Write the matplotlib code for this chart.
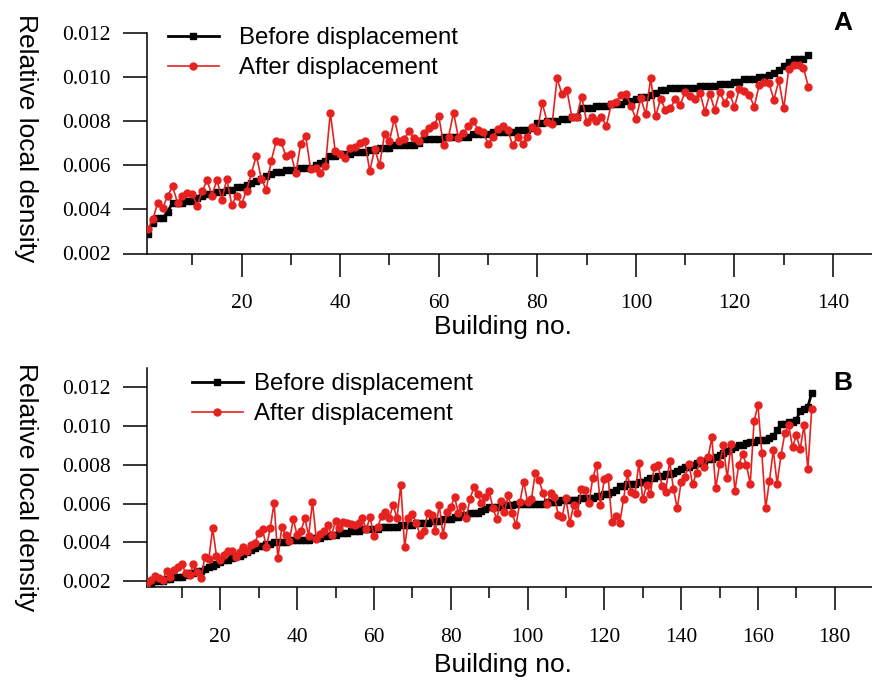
import matplotlib
matplotlib.use("Agg")
import matplotlib.pyplot as plt
from matplotlib.ticker import FixedLocator, FormatStrFormatter

# panel A: relative local density per building (135 buildings)
a_before = [0.0029, 0.0034, 0.0036, 0.0036, 0.0039, 0.0043, 0.0043, 0.0043, 0.0044, 0.0044,
            0.0045, 0.0046, 0.0047, 0.0047, 0.0048, 0.0048, 0.0049, 0.0049, 0.0050, 0.0050,
            0.0051, 0.0052, 0.0053, 0.0054, 0.0055, 0.0056, 0.0057, 0.0057, 0.0058, 0.0058,
            0.0058, 0.0059, 0.0059, 0.0059, 0.0060, 0.0061, 0.0062, 0.0064, 0.0064, 0.0065,
            0.0065, 0.0065, 0.0066, 0.0066, 0.0066, 0.0067, 0.0067, 0.0068, 0.0068, 0.0068,
            0.0069, 0.0069, 0.0069, 0.0069, 0.0069, 0.0070, 0.0072, 0.0072, 0.0072, 0.0072,
            0.0073, 0.0073, 0.0073, 0.0073, 0.0073, 0.0073, 0.0074, 0.0074, 0.0074, 0.0074,
            0.0075, 0.0075, 0.0075, 0.0075, 0.0075, 0.0076, 0.0076, 0.0076, 0.0077, 0.0079,
            0.0079, 0.0080, 0.0080, 0.0080, 0.0081, 0.0081, 0.0082, 0.0082, 0.0086, 0.0086,
            0.0086, 0.0087, 0.0087, 0.0087, 0.0088, 0.0088, 0.0088, 0.0089, 0.0089, 0.0090,
            0.0091, 0.0091, 0.0092, 0.0093, 0.0094, 0.0094, 0.0095, 0.0095, 0.0095, 0.0095,
            0.0095, 0.0095, 0.0096, 0.0096, 0.0096, 0.0096, 0.0097, 0.0097, 0.0097, 0.0098,
            0.0098, 0.0099, 0.0099, 0.0099, 0.0100, 0.0100, 0.0101, 0.0102, 0.0103, 0.0105,
            0.0107, 0.0108, 0.0108, 0.0108, 0.0110]
a_after = [0.00310, 0.00356, 0.00431, 0.00405, 0.00462, 0.00504, 0.00431, 0.00459, 0.00474, 0.00470,
           0.00416, 0.00482, 0.00532, 0.00463, 0.00535, 0.00444, 0.00538, 0.00421, 0.00463, 0.00425,
           0.00485, 0.00565, 0.00644, 0.00540, 0.00489, 0.00619, 0.00708, 0.00707, 0.00641, 0.00652,
           0.00565, 0.00698, 0.00733, 0.00584, 0.00588, 0.00565, 0.00596, 0.00839, 0.00664, 0.00649,
           0.00634, 0.00680, 0.00684, 0.00699, 0.00711, 0.00573, 0.00675, 0.00600, 0.00742, 0.00710,
           0.00812, 0.00710, 0.00718, 0.00756, 0.00722, 0.00710, 0.00745, 0.00771, 0.00781, 0.00824,
           0.00690, 0.00730, 0.00839, 0.00724, 0.00745, 0.00778, 0.00801, 0.00760, 0.00751, 0.00698,
           0.00728, 0.00763, 0.00778, 0.00760, 0.00690, 0.00730, 0.00695, 0.00730, 0.00775, 0.00756,
           0.00882, 0.00797, 0.00786, 0.00995, 0.00923, 0.00941, 0.00820, 0.00821, 0.00912, 0.00797,
           0.00820, 0.00801, 0.00821, 0.00778, 0.00877, 0.00885, 0.00921, 0.00922, 0.00870, 0.00810,
           0.00904, 0.00831, 0.00995, 0.00822, 0.00901, 0.00852, 0.00858, 0.00901, 0.00874, 0.00934,
           0.00916, 0.00901, 0.00928, 0.00843, 0.00924, 0.00851, 0.00934, 0.00883, 0.00924, 0.00866,
           0.00947, 0.00939, 0.00919, 0.00866, 0.00962, 0.00977, 0.00972, 0.00898, 0.00985, 0.00858,
           0.01035, 0.01053, 0.01053, 0.01043, 0.00954]

# panel B (174 buildings)
b_before = [0.0019, 0.0019, 0.0020, 0.0020, 0.0020, 0.0021, 0.0021, 0.0022, 0.0022, 0.0022,
            0.0023, 0.0024, 0.0024, 0.0025, 0.0025, 0.0026, 0.0027, 0.0028, 0.0029, 0.0030,
            0.0031, 0.0031, 0.0032, 0.0033, 0.0033, 0.0034, 0.0035, 0.0036, 0.0037, 0.0038,
            0.0038, 0.0039, 0.0039, 0.0040, 0.0040, 0.0040, 0.0040, 0.0041, 0.0041, 0.0041,
            0.0041, 0.0041, 0.0041, 0.0042, 0.0042, 0.0042, 0.0043, 0.0043, 0.0044, 0.0044,
            0.0045, 0.0045, 0.0045, 0.0046, 0.0046, 0.0046, 0.0047, 0.0047, 0.0047, 0.0047,
            0.0047, 0.0048, 0.0048, 0.0048, 0.0048, 0.0048, 0.0049, 0.0049, 0.0049, 0.0049,
            0.0050, 0.0050, 0.0050, 0.0050, 0.0051, 0.0051, 0.0051, 0.0052, 0.0052, 0.0052,
            0.0053, 0.0053, 0.0054, 0.0054, 0.0055, 0.0055, 0.0055, 0.0056, 0.0057, 0.0058,
            0.0058, 0.0058, 0.0059, 0.0059, 0.0059, 0.0059, 0.0060, 0.0060, 0.0060, 0.0060,
            0.0060, 0.0060, 0.0060, 0.0060, 0.0061, 0.0061, 0.0061, 0.0061, 0.0062, 0.0062,
            0.0062, 0.0062, 0.0062, 0.0063, 0.0063, 0.0063, 0.0063, 0.0064, 0.0064, 0.0065,
            0.0065, 0.0066, 0.0067, 0.0069, 0.0069, 0.0070, 0.0070, 0.0070, 0.0071, 0.0071,
            0.0072, 0.0073, 0.0073, 0.0074, 0.0074, 0.0075, 0.0075, 0.0076, 0.0077, 0.0078,
            0.0079, 0.0079, 0.0080, 0.0081, 0.0081, 0.0082, 0.0083, 0.0083, 0.0084, 0.0085,
            0.0086, 0.0087, 0.0088, 0.0089, 0.0090, 0.0090, 0.0091, 0.0092, 0.0092, 0.0093,
            0.0093, 0.0093, 0.0094, 0.0095, 0.0098, 0.0101, 0.0101, 0.0102, 0.0102, 0.0103,
            0.0108, 0.0109, 0.0110, 0.0117]
b_after = [0.00190, 0.00205, 0.00228, 0.00214, 0.00205, 0.00252, 0.00222, 0.00257, 0.00274, 0.00286,
           0.00240, 0.00231, 0.00286, 0.00248, 0.00214, 0.00326, 0.00312, 0.00472, 0.00329, 0.00308,
           0.00334, 0.00357, 0.00357, 0.00326, 0.00351, 0.00377, 0.00357, 0.00386, 0.00398, 0.00446,
           0.00467, 0.00377, 0.00472, 0.00604, 0.00317, 0.00477, 0.00437, 0.00408, 0.00518, 0.00437,
           0.00458, 0.00523, 0.00434, 0.00610, 0.00415, 0.00443, 0.00460, 0.00489, 0.00437, 0.00511,
           0.00475, 0.00506, 0.00498, 0.00494, 0.00489, 0.00498, 0.00523, 0.00468, 0.00529, 0.00432,
           0.00480, 0.00533, 0.00558, 0.00526, 0.00592, 0.00523, 0.00695, 0.00374, 0.00523, 0.00544,
           0.00501, 0.00437, 0.00458, 0.00549, 0.00541, 0.00458, 0.00592, 0.00437, 0.00558, 0.00580,
           0.00632, 0.00553, 0.00587, 0.00523, 0.00621, 0.00683, 0.00649, 0.00604, 0.00635, 0.00666,
           0.00575, 0.00520, 0.00614, 0.00558, 0.00644, 0.00549, 0.00489, 0.00606, 0.00712, 0.00610,
           0.00621, 0.00756, 0.00721, 0.00656, 0.00597, 0.00656, 0.00635, 0.00541, 0.00529, 0.00627,
           0.00498, 0.00592, 0.00549, 0.00673, 0.00670, 0.00604, 0.00733, 0.00799, 0.00592, 0.00726,
           0.00735, 0.00503, 0.00535, 0.00498, 0.00621, 0.00756, 0.00658, 0.00649, 0.00811, 0.00622,
           0.00696, 0.00647, 0.00790, 0.00799, 0.00690, 0.00661, 0.00821, 0.00675, 0.00575, 0.00713,
           0.00735, 0.00804, 0.00699, 0.00759, 0.00825, 0.00790, 0.00838, 0.00942, 0.00678, 0.00802,
           0.00902, 0.00730, 0.00907, 0.00666, 0.00799, 0.00856, 0.00799, 0.00701, 0.01028, 0.01108,
           0.00862, 0.00575, 0.00718, 0.00876, 0.00701, 0.00850, 0.00962, 0.01005, 0.00890, 0.00954,
           0.00880, 0.01005, 0.00776, 0.01088]

y_ticks = [0.002, 0.004, 0.006, 0.008, 0.010, 0.012]
labels = ["Before displacement", "After displacement"]

RED = "#e5221f"
SANS = "Liberation Sans"
SERIF = "Liberation Serif"
W, H = 872, 680

fig = plt.figure(figsize=(W / 100, H / 100), dpi=100)


def add_axes_px(left, top, right, bottom):
    return fig.add_axes([left / W, 1 - bottom / H, (right - left) / W, (bottom - top) / H])


def draw_panel(ax, before, after, xlim, ylim, xmajor, xminor):
    xs = list(range(1, len(before) + 1))
    l1, = ax.plot(xs, before, color="black", lw=2, marker="s", ms=4.5, zorder=2)
    l2, = ax.plot(xs, after, color=RED, lw=1.2, marker="o", ms=5, zorder=3)
    ax.set_xlim(*xlim)
    ax.set_ylim(*ylim)
    ax.xaxis.set_major_locator(FixedLocator(xmajor))
    ax.xaxis.set_minor_locator(FixedLocator(xminor))
    ax.yaxis.set_major_locator(FixedLocator(y_ticks))
    ax.yaxis.set_major_formatter(FormatStrFormatter("%.3f"))
    for s in ["top", "right"]:
        ax.spines[s].set_visible(False)
    for s in ["left", "bottom"]:
        ax.spines[s].set_linewidth(1.1)
    ax.tick_params(axis="y", direction="out", length=17, width=1.1, pad=9, labelsize=15.5)
    ax.tick_params(axis="x", which="major", direction="out", length=16.5, width=1.1, pad=13, labelsize=15.5)
    ax.tick_params(axis="x", which="minor", direction="out", length=8, width=1.1)
    for t in ax.get_xticklabels() + ax.get_yticklabels():
        t.set_fontfamily(SERIF)
    return l1, l2


# panel A
axA = add_axes_px(147, 33, 872, 253.5)
hA = draw_panel(axA, a_before, a_after, (0.81, 147.9), (0.002, 0.012),
                range(20, 141, 20), range(10, 141, 20))
axA.legend(hA, labels, loc="upper left", bbox_to_anchor=(168 / W, 1 - 27 / H),
           bbox_transform=fig.transFigure, frameon=False, borderpad=0, borderaxespad=0,
           handlelength=2.12, handletextpad=0.85, labelspacing=0.34,
           prop={"family": SANS, "size": 17.3})

# panel B
axB = add_axes_px(147, 367.7, 872, 586.7)
hB = draw_panel(axB, b_before, b_after, (0.91, 189.7), (0.001706, 0.01301),
                range(20, 181, 20), range(10, 181, 20))
axB.legend(hB, labels, loc="upper left", bbox_to_anchor=(192 / W, 1 - 373 / H),
           bbox_transform=fig.transFigure, frameon=False, borderpad=0, borderaxespad=0,
           handlelength=2.12, handletextpad=0.45, labelspacing=0.34,
           prop={"family": SANS, "size": 17.3})

# axis titles and panel letters
for yc in (138, 487):
    fig.text(26 / W, 1 - yc / H, "Relative local density", rotation=-90,
             ha="center", va="center", fontsize=19, family=SANS)
for yc in (327, 665):
    fig.text(503 / W, 1 - yc / H, "Building no.", ha="center", va="center",
             fontsize=19, family=SANS)
fig.text(843 / W, 1 - 23 / H, "A", ha="center", va="center", fontsize=19,
         fontweight="bold", family=SANS)
fig.text(843 / W, 1 - 383 / H, "B", ha="center", va="center", fontsize=19,
         fontweight="bold", family=SANS)

fig.savefig("out.png", dpi=100)
